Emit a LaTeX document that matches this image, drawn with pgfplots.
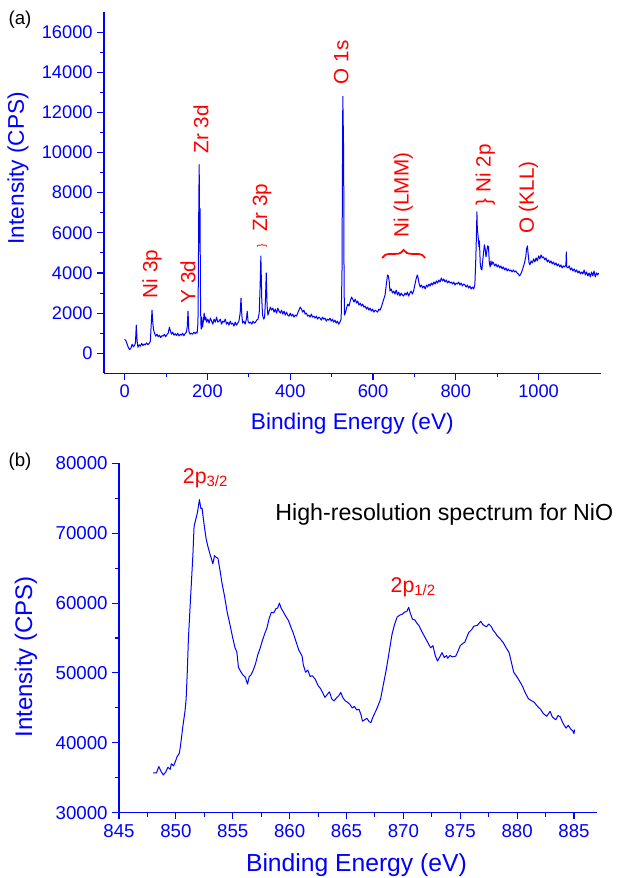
\documentclass[border=0pt]{standalone}
\usepackage{pgfplots}
\pgfplotsset{compat=1.18}
\usepackage{fontspec}
\setmainfont{Liberation Sans}
\usetikzlibrary{decorations.pathreplacing}
\definecolor{xpsblue}{RGB}{0,0,255}
\definecolor{xpsred}{RGB}{255,0,0}

\pgfplotsset{
  xpsaxis/.style={
    scale only axis,
    axis lines*=left,
    axis line style={xpsblue, line width=0.9pt},
    tick style={xpsblue, line width=0.8pt},
    tick align=outside,
    major tick length=5pt,
    minor tick length=3pt,
    minor x tick num=1,
    minor y tick num=1,
    scaled ticks=false,
    /pgf/number format/assume math mode=true,
    /pgf/number format/1000 sep={},
    ticklabel style={text=xpsblue},
    label style={text=xpsblue},
    clip=false,
  },
}
\tikzset{
  note/.style={text=xpsred, font=\fontsize{15.5}{15.5}\selectfont, inner sep=0pt},
}

\begin{document}
\begin{tikzpicture}
\path[use as bounding box] (0pt,0pt) rectangle (464.25pt,-658.5pt);

%% (a) survey spectrum
\begin{axis}[xpsaxis,
  at={(78pt,-280pt)}, anchor=south west,
  width=372.5pt, height=271pt,
  xmin=-50, xmax=1150, ymin=-1000, ymax=17000,
  xtick={0,200,...,1000}, ytick={0,2000,...,16000},
  tick label style={font=\fontsize{13.7}{13.7}\selectfont},
  xlabel={Binding Energy (eV)},
  ylabel={Intensity (CPS)},
  xlabel style={font=\fontsize{17}{17}\selectfont, at={(axis description cs:0.5,-0.14)}, anchor=center},
  ylabel style={font=\fontsize{17}{17}\selectfont, at={(axis description cs:-0.173,0.568)}, anchor=center},
]
\addplot[xpsblue, line width=0.75pt, line join=round] coordinates {
(0,700) (3,620) (6,450) (9,280) (12,180) (15,260) (18,450) (21,320) (24,400) (26,520)
(28,1400) (30,600) (32,300) (35,420) (38,350) (41,500) (44,380) (47,460) (50,420) (53,520)
(56,430) (59,480) (62,600) (64,1400) (66,2150) (68,1500) (70,1150) (72,1000) (75,850) (78,950)
(81,820) (84,900) (87,780) (90,880) (93,850) (96,950) (99,820) (102,930) (105,1000) (108,1300)
(110,1150) (113,950) (116,1050) (119,900) (122,980) (125,880) (128,1000) (131,860) (134,950) (137,900)
(140,1000) (143,870) (146,980) (149,1050) (151,1300) (153,2100) (155,1100) (158,950) (161,1000) (164,950)
(167,1050) (170,980) (173,1050) (175,1000) (177,1500) (178,4000) (179,7300) (180,9400) (181,5500) (182,7200)
(183,3000) (184,1500) (185,1200) (186,1800) (188,1300) (190,1600) (192,2000) (194,1650) (196,1800) (198,1550)
(201,1700) (204,1500) (207,1750) (210,1600) (213,1450) (216,1700) (219,1550) (222,1800) (225,1550) (228,1600)
(231,1700) (234,1450) (237,1600) (240,1550) (243,1700) (246,1450) (249,1550) (252,1400) (255,1600) (258,1450)
(261,1500) (264,1350) (267,1550) (270,1400) (273,1500) (276,1600) (279,2000) (281,2750) (283,1900) (285,1500)
(288,1600) (291,1450) (294,1700) (296,2100) (298,1600) (301,1500) (304,1550) (307,1450) (310,1600) (313,1500)
(316,1550) (319,1650) (322,1700) (325,2000) (327,3200) (329,4850) (331,2800) (333,1900) (336,1700) (338,1800)
(340,2600) (342,4000) (344,2400) (346,1900) (349,2100) (352,2300) (355,2150) (358,2250) (361,2050) (364,2200)
(367,2000) (370,2250) (373,2100) (376,2000) (379,2150) (382,1950) (385,2100) (388,1900) (391,2050) (394,1900)
(397,1850) (400,2000) (403,1850) (406,1950) (409,1800) (412,1900) (415,1850) (418,2000) (421,2150) (424,2300)
(427,2200) (430,2050) (433,2150) (436,1950) (439,2000) (442,1850) (445,1900) (448,1800) (451,1950) (454,1800)
(457,1850) (460,1750) (463,1850) (466,1700) (469,1800) (472,1750) (475,1650) (478,1800) (481,1700) (484,1750)
(487,1600) (490,1700) (493,1650) (496,1750) (499,1600) (502,1700) (505,1550) (508,1650) (511,1500) (514,1600)
(517,1450) (520,1550) (523,1700) (525,4000) (527,12800) (529,10000) (530,3500) (531,1900) (533,2000) (536,2250)
(539,2450) (542,2350) (545,2600) (548,2800) (551,2700) (554,2550) (557,2700) (560,2500) (563,2600) (566,2400)
(569,2500) (572,2350) (575,2450) (578,2300) (581,2350) (584,2200) (587,2300) (590,2150) (593,2250) (596,2100)
(599,2200) (602,2050) (605,2150) (608,2100) (611,2050) (614,2200) (617,2150) (620,2300) (623,2500) (626,2700)
(629,2900) (632,3400) (635,3900) (637,3850) (639,3600) (641,3100) (644,3200) (647,3000) (650,3100) (653,2950)
(656,3150) (659,2900) (662,3050) (665,2850) (668,3000) (671,2900) (674,2850) (677,3000) (680,2900) (683,3050)
(686,2850) (689,3000) (692,3100) (695,2950) (698,3100) (701,3400) (704,3700) (707,3900) (709,3750) (711,3500)
(714,3300) (717,3400) (720,3250) (723,3350) (726,3200) (729,3400) (732,3300) (735,3450) (738,3350) (741,3500)
(744,3400) (747,3550) (750,3450) (753,3600) (756,3500) (759,3650) (762,3550) (765,3750) (768,3600) (771,3700)
(774,3550) (777,3650) (780,3500) (783,3600) (786,3500) (789,3550) (792,3450) (795,3550) (798,3400) (801,3500)
(804,3450) (807,3550) (810,3400) (813,3500) (816,3350) (819,3450) (822,3400) (825,3300) (828,3400) (831,3250)
(834,3350) (837,3200) (840,3300) (843,3200) (846,3400) (848,4500) (850,6000) (851,7050) (852,6200) (854,5800)
(856,5300) (857,5600) (859,4500) (861,4200) (863,4150) (865,4600) (867,5000) (869,5400) (871,5200) (873,4800)
(875,5100) (877,5350) (879,5300) (881,4500) (883,4300) (885,4600) (887,4400) (889,4550) (891,4500) (894,4350)
(897,4450) (900,4300) (903,4400) (906,4250) (909,4350) (912,4200) (915,4300) (918,4150) (921,4250) (924,4100)
(927,4200) (930,4100) (933,4150) (936,4050) (939,4150) (942,4050) (945,4100) (948,4000) (951,3950) (954,3850)
(957,3950) (960,4100) (963,4300) (966,4500) (969,4800) (971,5200) (973,5350) (975,4900) (977,4500) (979,4400)
(982,4600) (985,4500) (988,4700) (991,4550) (994,4750) (997,4600) (1000,4850) (1003,4700) (1006,4900) (1009,4750)
(1012,4800) (1015,4650) (1018,4750) (1021,4550) (1024,4650) (1027,4500) (1030,4600) (1033,4450) (1036,4550) (1039,4400)
(1042,4500) (1045,4350) (1048,4450) (1051,4300) (1054,4400) (1057,4250) (1060,4350) (1063,4300) (1066,4400) (1067,5050)
(1068,4300) (1071,4250) (1074,4350) (1077,4150) (1080,4250) (1083,4100) (1086,4200) (1089,4050) (1092,4150) (1095,4000)
(1098,4100) (1101,3950) (1104,4050) (1107,3950) (1110,4150) (1113,3900) (1116,4050) (1119,3850) (1122,4000) (1125,3800)
(1128,4050) (1131,3850) (1134,4100) (1137,3800) (1140,4000) (1143,3900) (1145,4000)
};
%% peak labels
\node[note, rotate=90] at (axis cs:66,3950) {Ni 3p};
\node[note, rotate=90] at (axis cs:153,3550) {Y 3d};
\node[note, rotate=90] at (axis cs:184.5,11150) {Zr 3d};
\node[note, rotate=90] at (axis cs:332,7250) {Zr 3p};
\node[note, rotate=90, font=\fontsize{8}{8}\selectfont] at (axis cs:332,5350) {\}};
\node[note, rotate=90] at (axis cs:523.5,14500) {O 1s};
\node[note, rotate=90] at (axis cs:673,7875) {Ni (LMM)};
\draw[xpsred, line width=1.3pt, decorate, decoration={brace, amplitude=6pt}]
  (axis cs:622,4750) -- (axis cs:726,4750);
\node[note, rotate=90] at (axis cs:871.5,8900) {\}\ Ni 2p};
\node[note, rotate=90] at (axis cs:975.5,7750) {O (KLL)};
\end{axis}

%% (b) Ni 2p high-resolution spectrum
\begin{axis}[xpsaxis,
  at={(89.25pt,-609.5pt)}, anchor=south west,
  width=358.3pt, height=262pt,
  xmin=845, xmax=887, ymin=30000, ymax=80000,
  xtick={845,850,...,885}, ytick={30000,40000,...,80000},
  tick label style={font=\fontsize{14}{14}\selectfont},
  xlabel={Binding Energy (eV)},
  ylabel={Intensity (CPS)},
  xlabel style={font=\fontsize{18.5}{18.5}\selectfont, at={(axis description cs:0.497,-0.15)}, anchor=center},
  ylabel style={font=\fontsize{18}{18}\selectfont, at={(axis description cs:-0.195,0.446)}, anchor=center},
]
\addplot[xpsblue, line width=0.75pt, line join=round] coordinates {
(848.0,35700) (848.3,35700) (848.5,36600) (848.7,35900) (848.9,35400) (849.1,35800) (849.3,36500) (849.5,36200)
(849.6,37000) (849.8,36700) (850.0,37500) (850.1,38000) (850.3,38500) (850.4,39500) (850.5,40800) (850.6,42200)
(850.8,44500) (850.9,46200) (851.0,50000) (851.1,54800) (851.3,61000) (851.5,67000) (851.6,71000) (851.8,72300)
(851.9,73000) (852.07,74800) (852.2,73500) (852.3,73600) (852.5,71000) (852.66,69200) (852.8,68200) (853.0,67000)
(853.1,66500) (853.25,65600) (853.4,66800) (853.5,66600) (853.7,66400) (853.9,64500) (854.04,63000) (854.3,60800)
(854.5,58800) (854.77,56800) (855.0,55000) (855.2,53600) (855.36,53000) (855.5,50800) (855.7,50200) (855.9,49700)
(856.1,49400) (856.3,48400) (856.45,49500) (856.6,49700) (856.8,50400) (857.0,51300) (857.2,52600) (857.4,53500)
(857.6,54600) (857.85,55800) (858.0,56400) (858.2,57800) (858.4,58700) (858.6,58600) (858.8,59200) (858.95,59300)
(859.1,60000) (859.25,59300) (859.46,58700) (859.7,58000) (859.9,57500) (860.1,56600) (860.3,55800) (860.6,54300)
(860.8,53300) (861.1,52400) (861.2,51200) (861.4,50100) (861.6,50400) (861.8,49500) (862.0,49600) (862.25,49100)
(862.5,48200) (862.7,47800) (862.9,47200) (863.1,46500) (863.3,46900) (863.5,47300) (863.7,46300) (863.9,46000)
(864.1,46400) (864.3,46700) (864.5,47200) (864.7,46400) (864.9,46000) (865.1,45800) (865.3,45500) (865.5,45000)
(865.7,45200) (865.9,44700) (866.1,44800) (866.3,43900) (866.4,43100) (866.6,43300) (866.8,43500) (867.0,43000)
(867.15,42900) (867.3,43600) (867.5,44300) (867.7,45000) (868.0,46300) (868.2,48000) (868.5,50500) (868.7,52500)
(869.0,55500) (869.2,56800) (869.45,58000) (869.7,58300) (869.9,58400) (870.1,58700) (870.3,58800) (870.47,59400)
(870.6,58600) (870.8,57700) (871.0,57600) (871.2,57100) (871.4,56700) (871.6,56000) (871.8,55400) (872.0,54800)
(872.2,54200) (872.4,53600) (872.6,53900) (872.8,52500) (873.0,51700) (873.2,52300) (873.4,52900) (873.6,52200)
(873.8,52500) (873.9,52100) (874.1,52500) (874.3,52300) (874.6,52400) (874.8,53100) (875.0,53900) (875.2,54200)
(875.4,54400) (875.75,55800) (876.0,56200) (876.2,56700) (876.5,56800) (876.8,57400) (877.0,56900) (877.3,56600)
(877.5,57000) (877.7,56700) (877.9,56100) (878.1,55700) (878.25,55300) (878.5,54900) (878.8,54300) (879.0,53700)
(879.3,52900) (879.5,51500) (879.7,50100) (880.0,49400) (880.3,48600) (880.5,48000) (880.7,47200) (881.0,46300)
(881.2,46100) (881.5,45800) (881.8,45200) (882.06,44800) (882.3,44200) (882.6,43800) (882.9,44500) (883.1,43700)
(883.4,43300) (883.6,43900) (883.8,43700) (884.0,42900) (884.3,42100) (884.5,42500) (884.75,41900) (884.9,41700)
(885.0,41300) (885.05,41900)
};
\node[note, anchor=base west, font=\fontsize{16}{16}\selectfont] at (axis cs:850.6,77160) {2p\textsubscript{3/2}};
\node[note, anchor=base west, font=\fontsize{16}{16}\selectfont] at (axis cs:868.86,61570) {2p\textsubscript{1/2}};
\node[anchor=base west, inner sep=0pt, font=\fontsize{17.4}{17.4}\selectfont] at (axis cs:858.73,71880)
  {High-resolution spectrum for NiO};
\end{axis}

\node[font=\fontsize{14}{14}\selectfont] at (15pt,-15pt) {(a)};
\node[font=\fontsize{14}{14}\selectfont] at (15pt,-346.5pt) {(b)};
\end{tikzpicture}
\end{document}
